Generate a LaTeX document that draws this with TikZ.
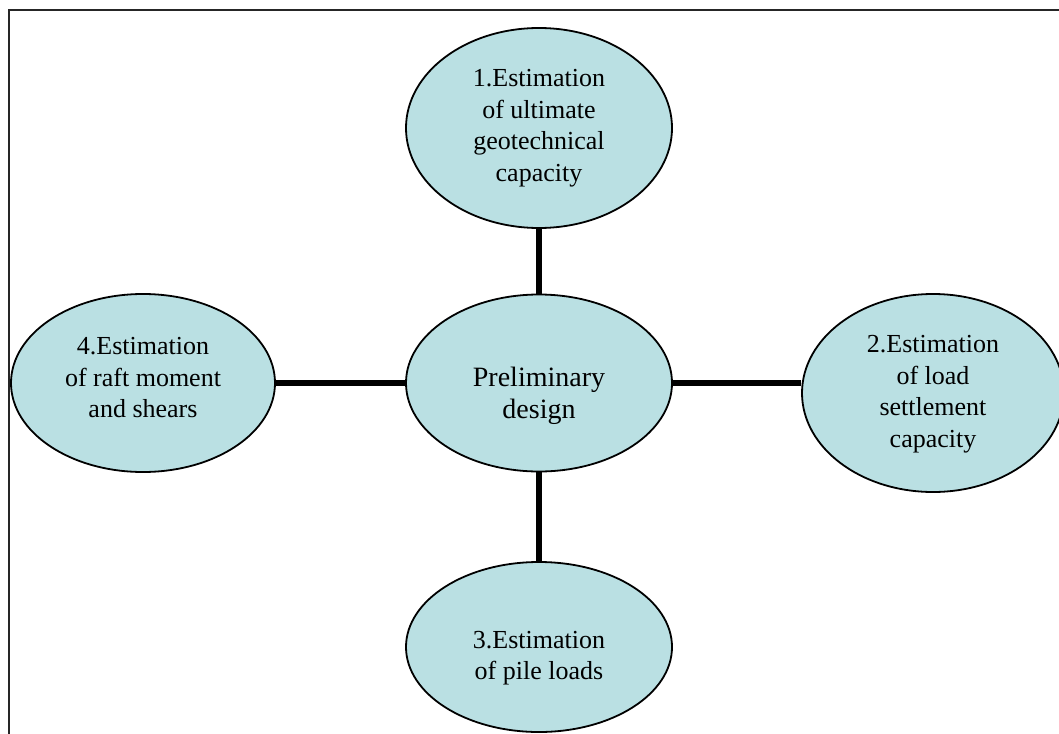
\documentclass[tikz,border=0pt]{standalone}
\usepackage{fontspec}
\setmainfont{Liberation Serif}
\usetikzlibrary{shapes.geometric}
\definecolor{ellfill}{RGB}{186,224,227}
\tikzset{
  ell/.style={ellipse, draw=black, line width=1.8pt, fill=ellfill, inner sep=0pt},
  txt/.style={align=center, inner sep=0pt, font=\fontsize{26}{31.5}\selectfont},
  conn/.style={line width=6.5pt}
}
\begin{document}
\begin{tikzpicture}[x=1pt,y=-1pt]
\clip (0,0) rectangle (1059,733);
\draw[line width=2.6pt, black!85] (9,10) rectangle (1080,760);
% ellipses
\node[ell, minimum width=266pt, minimum height=200pt] (n1) at (539,128) {};
\node[ell, minimum width=266pt, minimum height=177pt] (c) at (539,383) {};
\node[ell, minimum width=264pt, minimum height=178pt] (n4) at (143,383) {};
\node[ell, minimum width=262pt, minimum height=198pt] (n2) at (933,393) {};
\node[ell, minimum width=266pt, minimum height=170pt] (n3) at (539,647) {};
% connectors
\draw[conn] (n1.south) -- (c.north);
\draw[conn] (c.south) -- (n3.north);
\draw[conn] (n4.east) -- (c.west);
\draw[conn] (c.east) -- (n2.west |- c.east);
% texts
\node[txt] (t1) at (539,128) {1.Estimation\\of ultimate\\geotechnical\\capacity};
\node[txt, font=\fontsize{28}{32}\selectfont] (tc) at (539,396) {Preliminary\\design};
\node[txt] (t4) at (143,378) {4.Estimation\\of raft moment\\and shears};
\node[txt] (t2) at (933,394) {2.Estimation\\of load\\settlement\\capacity};
\node[txt] (t3) at (539,658) {3.Estimation\\of pile loads};
\end{tikzpicture}
\end{document}
